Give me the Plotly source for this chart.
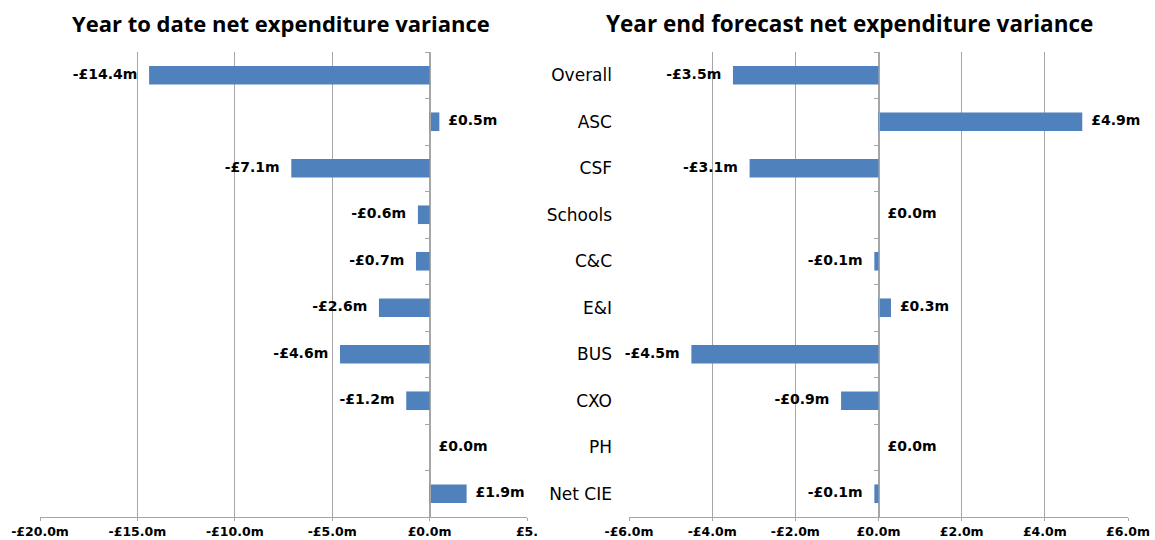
import plotly.graph_objects as go

categories = ["Overall", "ASC", "CSF", "Schools", "C&C", "E&I", "BUS", "CXO", "PH", "Net CIE"]
ytd_values = [-14.4, 0.5, -7.1, -0.6, -0.7, -2.6, -4.6, -1.2, 0.0, 1.9]
forecast_values = [-3.5, 4.9, -3.1, 0.0, -0.1, 0.3, -4.5, -0.9, 0.0, -0.1]

left_tickvals = [-20, -15, -10, -5, 0, 5]
left_ticktext = ["-£20.0m", "-£15.0m", "-£10.0m", "-£5.0m", "£0.0m", "£5."]
right_tickvals = [-6, -4, -2, 0, 2, 4, 6]
right_ticktext = ["-£6.0m", "-£4.0m", "-£2.0m", "£0.0m", "£2.0m", "£4.0m", "£6.0m"]

titles = ["Year to date net expenditure variance", "Year end forecast net expenditure variance"]

BAR = "#4F81BD"
GRID = "#A6A6A6"
FONT = "DejaVu Sans, sans-serif"
NBSP = "\u00a0"
THIN = "\u2009"


def fmt(v):
    return f"-£{abs(v):.1f}m" if v < 0 else f"£{v:.1f}m"


def label(v):
    t = "<b>" + fmt(v) + "</b>"
    return t + NBSP + NBSP + THIN if v < 0 else NBSP + NBSP + t


W, H = 1155, 540
top_px, bot_px = 52, 517
ydom = [1 - bot_px / H, 1 - top_px / H]
L_dom = [40 / W, 527 / W]
R_dom = [629 / W, 1128 / W]
L_range = [-20, 5]
R_range = [-6, 6]
YR = [len(categories) - 0.5, -0.5]


def zero_pos(dom, rng):
    return dom[0] + (0 - rng[0]) / (rng[1] - rng[0]) * (dom[1] - dom[0])


fig = go.Figure()

# left chart
fig.add_trace(go.Bar(x=ytd_values, y=categories, orientation="h",
                     marker=dict(color=BAR, line=dict(width=0)),
                     xaxis="x", yaxis="y", showlegend=False, hoverinfo="skip"))
fig.add_trace(go.Scatter(x=ytd_values, y=categories, mode="text",
                         text=[label(v) for v in ytd_values],
                         textposition=["middle right" if v >= 0 else "middle left" for v in ytd_values],
                         textfont=dict(family=FONT, size=14, color="#000000"),
                         xaxis="x", yaxis="y", showlegend=False, hoverinfo="skip", cliponaxis=False))

# right chart
fig.add_trace(go.Bar(x=forecast_values, y=categories, orientation="h",
                     marker=dict(color=BAR, line=dict(width=0)),
                     xaxis="x2", yaxis="y2", showlegend=False, hoverinfo="skip"))
fig.add_trace(go.Scatter(x=forecast_values, y=categories, mode="text",
                         text=[label(v) for v in forecast_values],
                         textposition=["middle right" if v >= 0 else "middle left" for v in forecast_values],
                         textfont=dict(family=FONT, size=14, color="#000000"),
                         xaxis="x2", yaxis="y3", showlegend=False, hoverinfo="skip", cliponaxis=False))

axis_common = dict(
    showgrid=True, gridcolor=GRID, gridwidth=1,
    zeroline=True, zerolinecolor=GRID, zerolinewidth=1,
    showline=True, linecolor=GRID, linewidth=1,
    ticks="outside", ticklen=3, tickcolor=GRID,
    tickfont=dict(family=FONT, size=12.5, color="#000000", weight="bold"),
    fixedrange=True, automargin=False,
)
zero_axis = dict(type="category", range=YR, showticklabels=False, showgrid=False,
                 showline=True, linecolor=GRID, linewidth=1,
                 ticks="outside", tickson="boundaries", ticklen=5, tickcolor=GRID,
                 fixedrange=True, automargin=False, zeroline=False)

fig.update_layout(
    template="none",
    width=W, height=H,
    margin=dict(l=0, r=0, t=0, b=0, pad=0),
    paper_bgcolor="white", plot_bgcolor="white",
    bargap=0.6,
    xaxis=dict(domain=L_dom, range=L_range, tickvals=left_tickvals, ticktext=left_ticktext,
               anchor="y", **axis_common),
    yaxis=dict(domain=ydom, anchor="free", position=zero_pos(L_dom, L_range), **zero_axis),
    xaxis2=dict(domain=R_dom, range=R_range, tickvals=right_tickvals, ticktext=right_ticktext,
                anchor="y2", **axis_common),
    yaxis2=dict(domain=ydom, anchor="free", position=zero_pos(R_dom, R_range), **zero_axis),
    yaxis3=dict(domain=ydom, anchor="x2", overlaying="y2", side="left", type="category",
                range=YR, showticklabels=True, showgrid=False, showline=False, ticks="",
                zeroline=False, ticklabelstandoff=16, automargin=False, fixedrange=True,
                tickfont=dict(family=FONT, size=17, color="#000000")),
    annotations=[
        dict(text="<b>" + titles[0] + "</b>", x=281 / W, y=1 - 23 / H, xref="paper", yref="paper",
             xanchor="center", yanchor="middle", showarrow=False,
             font=dict(family="Open Sans, sans-serif", size=22, color="#000000")),
        dict(text="<b>" + titles[1] + "</b>", x=850 / W, y=1 - 23 / H, xref="paper", yref="paper",
             xanchor="center", yanchor="middle", showarrow=False,
             font=dict(family="Open Sans, sans-serif", size=22.5, color="#000000")),
    ],
)

fig.write_html("out.html")
